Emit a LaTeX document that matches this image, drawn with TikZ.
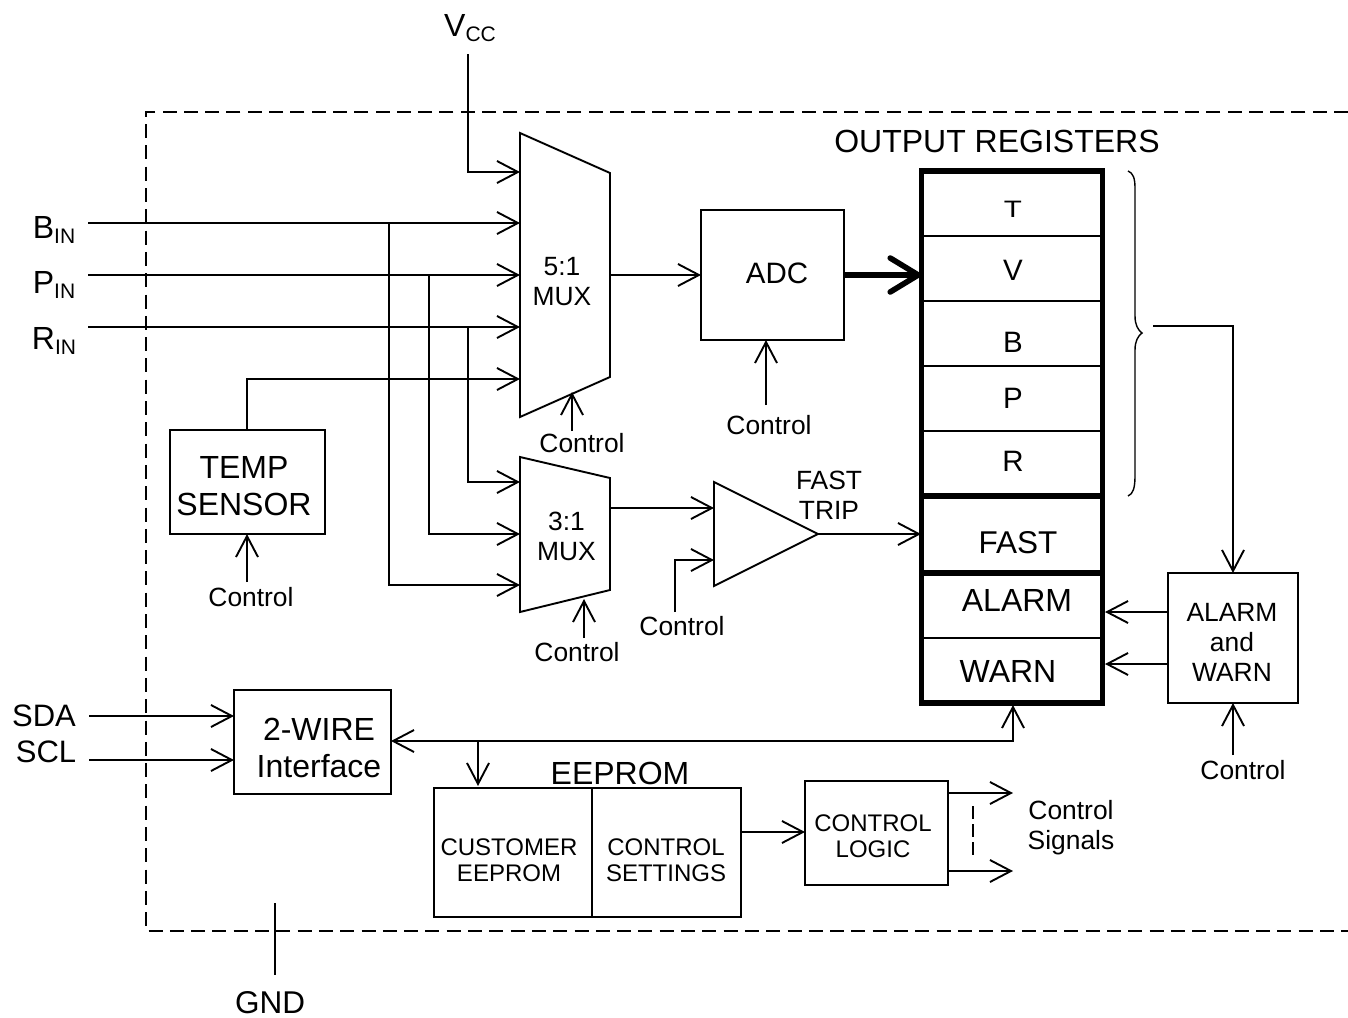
\documentclass[tikz,border=0pt]{standalone}
\usepackage{fontspec}
\setmainfont{Liberation Sans}
\usetikzlibrary{arrows.meta}
\newcommand{\fs}[2]{\fontsize{#1}{#2}\selectfont}
\newcommand{\subs}[1]{\raisebox{-5.5pt}{\fontsize{21}{21}\selectfont #1}}
\tikzset{
  x=1pt,y=-1pt,
  every path/.style={line width=1.9pt,line join=miter},
  lbl/.style={inner sep=0pt,outer sep=0pt,anchor=base,text=black},
  big/.style={lbl,font=\fs{32}{37}},
  mid/.style={lbl,font=\fs{26.4}{30}},
  sm/.style={lbl,font=\fs{24}{26}},
  lines/.style={align=center,anchor=center},
  blk/.style={draw=black,inner sep=0pt,outer sep=0pt},
  vee/.style={-{Straight Barb[length=21pt,width=22pt,line width=1.9pt]}},
  veeb/.style={{Straight Barb[length=21pt,width=22pt,line width=1.9pt]}-{Straight Barb[length=21pt,width=22pt,line width=1.9pt]}},
  fat/.style={line width=5.6pt,-{Straight Barb[length=28pt,width=34pt,line width=5.6pt,round]}},
  thick reg/.style={line width=5.6pt},
}
\begin{document}
\begin{tikzpicture}
\useasboundingbox (0,0) rectangle (1348,1017);
% outer dashed package boundary
\draw[dash pattern=on 14pt off 7.3pt] (1348,112) -- (146,112) -- (146,931) -- (1348,931);

% coordinates at the left-hand edge and free ends
\coordinate (vcctop) at (468,54);
\coordinate (bstart) at (88,223);
\coordinate (pstart) at (88,275);
\coordinate (rstart) at (88,327);
\coordinate (sdastart) at (89,716);
\coordinate (sclstart) at (89,760);

% muxes
\coordinate (m5a) at (520,133);
\coordinate (m5b) at (610,173);
\coordinate (m5c) at (610,377);
\coordinate (m5d) at (520,417);
\draw (m5a) -- (m5b) -- (m5c) -- (m5d) -- cycle;
\coordinate (m3a) at (520,457);
\coordinate (m3b) at (610,478);
\coordinate (m3c) at (610,590);
\coordinate (m3d) at (520,612);
\draw (m3a) -- (m3b) -- (m3c) -- (m3d) -- cycle;
\node[mid,lines] (m5t) at (562,282) {5:1\\MUX};
\node[mid,lines] (m3t) at (566.5,536) {3:1\\MUX};

% amplifier
\coordinate (ta) at (714,482);
\coordinate (tb) at (818,534);
\coordinate (tc) at (714,586);
\draw (ta) -- (tb) -- (tc) -- cycle;

% boxes
\node[blk,minimum width=143pt,minimum height=130pt] (adc) at (772.5,275) {};
\node[lbl,font=\fs{29.5}{34}] (adct) at (777,283) {ADC};
\node[blk,minimum width=155pt,minimum height=104pt] (temp) at (247.5,482) {};
\node[big,lines] (tempt) at (244,486) {TEMP\\SENSOR};
\node[blk,minimum width=157pt,minimum height=104pt] (wire) at (312.5,742) {};
\node[big,lines] (wiret) at (319,748) {2-WIRE\\Interface};
\node[blk,minimum width=158pt,minimum height=129pt] (cust) at (513,852.5) {};
\node[blk,minimum width=149pt,minimum height=129pt] (sett) at (666.5,852.5) {};
\node[sm,lines] (custt) at (509,860.5) {CUSTOMER\\EEPROM};
\node[sm,lines] (settt) at (666,860.5) {CONTROL\\SETTINGS};
\node[blk,minimum width=143pt,minimum height=104pt] (logic) at (876.5,833) {};
\node[sm,lines] (logict) at (873,836) {CONTROL\\LOGIC};
\node[blk,minimum width=130pt,minimum height=130pt] (alarm) at (1233,638) {};
\node[mid,lines] (alarmt) at (1232,642) {ALARM\\and\\WARN};

% registers
\node[draw=black,thick reg,inner sep=0pt,outer sep=0pt,minimum width=181pt,minimum height=532pt] (reg) at (1012,437) {};
\draw (reg.west |- 0,236) -- (reg.east |- 0,236);
\draw (reg.west |- 0,301) -- (reg.east |- 0,301);
\draw (reg.west |- 0,366) -- (reg.east |- 0,366);
\draw (reg.west |- 0,431) -- (reg.east |- 0,431);
\draw (reg.west |- 0,638) -- (reg.east |- 0,638);
\draw[thick reg] (reg.west |- 0,496) -- (reg.east |- 0,496);
\draw[thick reg] (reg.west |- 0,573) -- (reg.east |- 0,573);
\node[mid,xscale=1.12,yscale=.9] (rt) at (1013,217) {T};
\node[lbl,font=\fs{29.5}{34}] (rv) at (1013,280) {V};
\node[lbl,font=\fs{29.5}{34}] (rb) at (1013,352) {B};
\node[lbl,font=\fs{29.5}{34}] (rp) at (1013,408) {P};
\node[lbl,font=\fs{29.5}{34}] (rr) at (1013,471) {R};
\node[lbl,font=\fs{31.5}{37}] (rf) at (1018,553) {FAST};
\node[big] (ra) at (1017,611) {ALARM};
\node[big] (rw) at (1008,682) {WARN};
\node[big] (ort) at (997,152) {OUTPUT REGISTERS};

% labels
\node[lbl] (vcc) at (470,36) {\fs{32}{37}V\subs{CC}};
\node[lbl] (bin) at (54,238) {\fs{32}{37}B\subs{IN}};
\node[lbl] (pin) at (54,293) {\fs{32}{37}P\subs{IN}};
\node[lbl] (rin) at (54,349) {\fs{32}{37}R\subs{IN}};
\node[lbl,font=\fs{31}{37}] (sda) at (44,726) {SDA};
\node[lbl,font=\fs{31}{37}] (scl) at (46,762) {SCL};
\node[lbl,font=\fs{31.5}{37}] (gnd) at (270,1013) {GND};
\node[big] (eep) at (620,784) {EEPROM};
\node[mid,lines] (ft) at (829,495) {FAST\\TRIP};
\node[mid,lines] (cs) at (1071,828) {Control\\Signals};
\node[mid] (c1) at (582,452) {Control};
\node[mid] (c2) at (769,434) {Control};
\node[mid] (c3) at (251,606) {Control};
\node[mid] (c4) at (577,661) {Control};
\node[mid] (c5) at (682,635) {Control};
\node[mid] (c6) at (1243,779) {Control};

% connectors
\draw[vee] (vcctop) |- (520,172);
\draw[vee] (bstart) -- (520,223);
\draw[vee] (pstart) -- (520,275);
\draw[vee] (rstart) -- (520,327);
\draw[vee] (temp.north -| 247,430) |- (520,379);
\draw[vee] (389,223) |- (520,585);
\draw[vee] (429,275) |- (520,534);
\draw[vee] (468,327) |- (520,482);
\draw[vee] (610,275) -- (adc.west);
\draw[fat] (adc.east) -- (921,275);
\draw[vee] (610,508) -- (714,508);
\draw[vee] (675,612) |- (714,560);
\draw[vee] (tb) -- (921,534);
\draw[vee] (572,431) -- (572,392);
\draw[vee] (584,638) -- (584,599);
\draw[vee] (766,405) -- (adc.south -| 766,0);
\draw[vee] (247,582) -- (temp.south -| 247,0);
\draw[vee] (sdastart) -- (234,716);
\draw[vee] (sclstart) -- (234,760);
\draw[veeb] (391,741) -| (1013,705);
\draw[vee] (478,741) -- (478,786);
\draw[vee] (sett.east |- 0,832) -- (logic.west |- 0,832);
\draw[vee] (logic.east |- 0,793) -- (1013,793);
\draw[vee] (logic.east |- 0,871) -- (1013,871);
\draw[dash pattern=on 13pt off 5pt] (973,806) -- (973,855);
\draw[vee] (alarm.west |- 0,612) -- (1105,612);
\draw[vee] (alarm.west |- 0,664) -- (1105,664);
\draw[vee] (1233,755) -- (alarm.south);
\draw[vee] (1153,326) -| (alarm.north);
\draw (275,903) -- (275,975);
% brace
\draw[line width=1.4pt] (1128,171) .. controls (1133,173) and (1135,178) .. (1135,188) -- (1135,316) .. controls (1135,325) and (1138,330) .. (1142,333) .. controls (1138,336) and (1135,341) .. (1135,350) -- (1135,476) .. controls (1135,488) and (1133,494) .. (1128,496);
\end{tikzpicture}
\end{document}
